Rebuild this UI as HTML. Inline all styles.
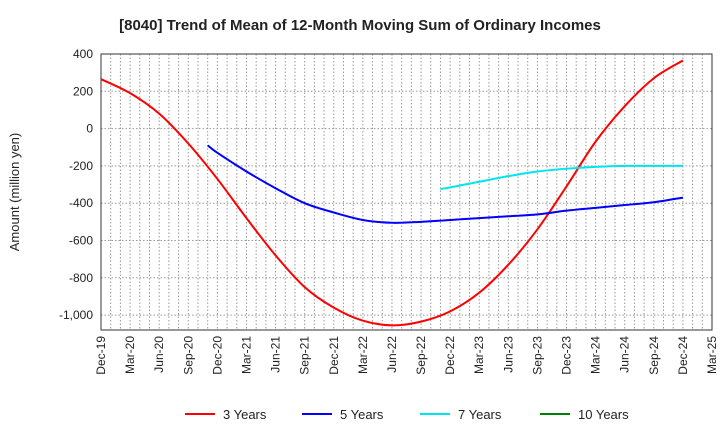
<!DOCTYPE html>
<html><head><meta charset="utf-8"><style>
body{margin:0;background:#fff;font-family:"Liberation Sans",sans-serif}
</style></head><body>
<svg id="c" width="720" height="440" xmlns="http://www.w3.org/2000/svg"></svg>
<script>
const xLabels=["Dec-19","Mar-20","Jun-20","Sep-20","Dec-20","Mar-21","Jun-21","Sep-21","Dec-21","Mar-22","Jun-22","Sep-22","Dec-22","Mar-23","Jun-23","Sep-23","Dec-23","Mar-24","Jun-24","Sep-24","Dec-24","Mar-25"];
const yTicks=[400,200,0,-200,-400,-600,-800,-1000];
const yTickLabels=["400","200","0","-200","-400","-600","-800","-1,000"];
const m3=[0,3,6,9,12,15,18,21,24,27,30,33,36,39,42,45,48,51,54,57,60];
const v3=[265,190,80,-80,-270,-480,-680,-850,-960,-1030,-1055,-1035,-980,-880,-730,-540,-310,-70,120,270,365];
const m5=[11,12,15,18,21,24,27,30,33,36,39,42,45,48,51,54,57,60];
const v5=[-90,-130,-230,-320,-400,-450,-490,-505,-500,-490,-480,-470,-460,-440,-425,-410,-395,-370];
const m7=[35,36,39,42,45,48,51,54,57,60];
const v7=[-325,-315,-285,-255,-230,-215,-205,-200,-200,-200];
const seriesNames=["3 Years","5 Years","7 Years","10 Years"];
const colors=["#ff0000","#0000ff","#00e5ee","#008000"];

const L=101,R=712,T=54,B=330,yMax=400,yMin=-1080,nM=63;
const xs=m=>L+(R-L)*m/nM;
const ys=v=>T+(B-T)*(yMax-v)/(yMax-yMin);
const svg=document.getElementById('c');const NS="http://www.w3.org/2000/svg";
function mk(t,a,txt){const e=document.createElementNS(NS,t);for(const k in a)e.setAttribute(k,a[k]);if(txt!==undefined)e.textContent=txt;svg.appendChild(e);return e;}
let e=mk('text',{x:360,y:30,'text-anchor':'middle','font-size':15,'font-weight':'bold',fill:'#222'},'[8040]  Trend of Mean of 12-Month Moving Sum of Ordinary Incomes');


for(let m=1;m<nM;m++){e=mk('line',{x1:xs(m),x2:xs(m),y1:T,y2:B,stroke:'#999','stroke-dasharray':'1.5,2','stroke-width':1});

}
yTicks.forEach((v,i)=>{e=mk('line',{x1:L,x2:R,y1:ys(v),y2:ys(v),stroke:'#999','stroke-dasharray':'1.5,2'});


e=mk('text',{x:L-8,y:ys(v)+4,'text-anchor':'end','font-size':12,fill:'#222'},yTickLabels[i]);

});
e=mk('rect',{x:L,y:T,width:R-L,height:B-T,fill:'none',stroke:'#333'});


xLabels.forEach((s,i)=>{const x=xs(i*3)+4;e=mk('text',{x:x,y:B+6,'text-anchor':'end','font-size':12,fill:'#222',transform:`rotate(-90 ${x} ${B+6})`},s);

});
e=mk('text',{x:19,y:192,'text-anchor':'middle','font-size':13,fill:'#222',transform:'rotate(-90 19 192)'},'Amount (million yen)');


function path(ms,vs){const p=ms.map((m,i)=>[xs(m),ys(vs[i])]);let d=`M${p[0][0]},${p[0][1]}`;
for(let i=0;i<p.length-1;i++){const p0=p[i-1]||p[i],p1=p[i],p2=p[i+1],p3=p[i+2]||p2;
d+=` C${p1[0]+(p2[0]-p0[0])/6},${p1[1]+(p2[1]-p0[1])/6} ${p2[0]-(p3[0]-p1[0])/6},${p2[1]-(p3[1]-p1[1])/6} ${p2[0]},${p2[1]}`;}return d;}
[[m3,v3],[m5,v5],[m7,v7]].forEach((s,i)=>{e=mk('path',{d:path(s[0],s[1]),fill:'none',stroke:colors[i],'stroke-width':2});

});
const lx=[185,302,420,540];
seriesNames.forEach((n,i)=>{e=mk('line',{x1:lx[i],x2:lx[i]+30,y1:414,y2:414,stroke:colors[i],'stroke-width':2});


e=mk('text',{x:lx[i]+38,y:419,'font-size':13,fill:'#222'},n);

});
</script></body></html>
